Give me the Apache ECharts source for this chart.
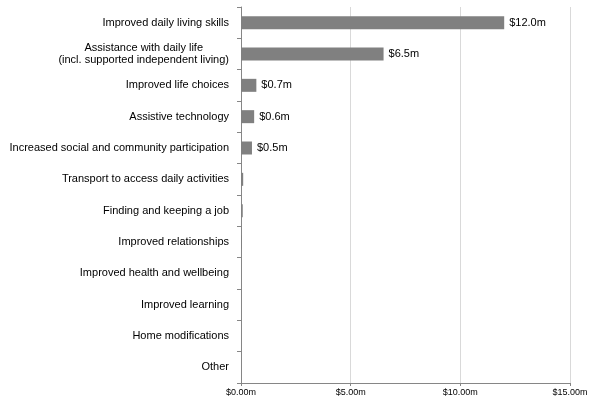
<!DOCTYPE html>
<html><head><meta charset="utf-8">
<script src="https://cdn.jsdelivr.net/npm/echarts@6/dist/echarts.min.js"></script>
<style>html,body{margin:0;padding:0;background:#fff}#c{width:599px;height:403px}</style>
</head><body><div id="c"></div>
<script>
const categories = [
  "Improved daily living skills",
  "Assistance with daily life\n(incl. supported independent living)",
  "Improved life choices",
  "Assistive technology",
  "Increased social and community participation",
  "Transport to access daily activities",
  "Finding and keeping a job",
  "Improved relationships",
  "Improved health and wellbeing",
  "Improved learning",
  "Home modifications",
  "Other"
];
const values = [12.0, 6.5, 0.7, 0.6, 0.5, 0.1, 0.08, 0.04, 0, 0, 0, 0];
const xTicks = [0, 5, 10, 15];

const FONT = 'Liberation Sans, Arial, sans-serif';
const chart = echarts.init(document.getElementById('c'));
chart.setOption({
  animation: false,
  grid: { left: 241, right: 29, top: 7, bottom: 20 },
  xAxis: {
    type: 'value', min: xTicks[0], max: xTicks[xTicks.length - 1], interval: xTicks[1] - xTicks[0],
    axisLine: { show: true, lineStyle: { color: '#868686' } },
    axisTick: { show: true, length: 3, lineStyle: { color: '#868686' } },
    splitLine: { show: true, lineStyle: { color: '#d9d9d9', width: 1 } },
    axisLabel: { fontFamily: FONT, fontSize: 9, color: '#000', margin: 5,
      formatter: v => '$' + v.toFixed(2) + 'm' }
  },
  yAxis: {
    type: 'category', data: categories, inverse: true,
    axisLine: { show: true, lineStyle: { color: '#868686' } },
    axisTick: { show: true, length: 4, lineStyle: { color: '#868686' } },
    axisLabel: { fontFamily: FONT, fontSize: 11, color: '#000', margin: 12,
      lineHeight: 12.5,
      formatter: v => v.split('\n').map(s => '{c|' + s + '}').join('\n'),
      rich: { c: { align: 'center', fontFamily: FONT, fontSize: 11, color: '#000', lineHeight: 12.5 } }
    }
  },
  series: [{
    type: 'bar', data: values, barWidth: 13,
    itemStyle: { color: '#808080' },
    label: { show: true, position: 'right', distance: 5,
      fontFamily: FONT, fontSize: 11, color: '#000',
      formatter: p => p.value >= 0.45 ? '$' + p.value.toFixed(1) + 'm' : '' }
  }]
});
</script></body></html>
